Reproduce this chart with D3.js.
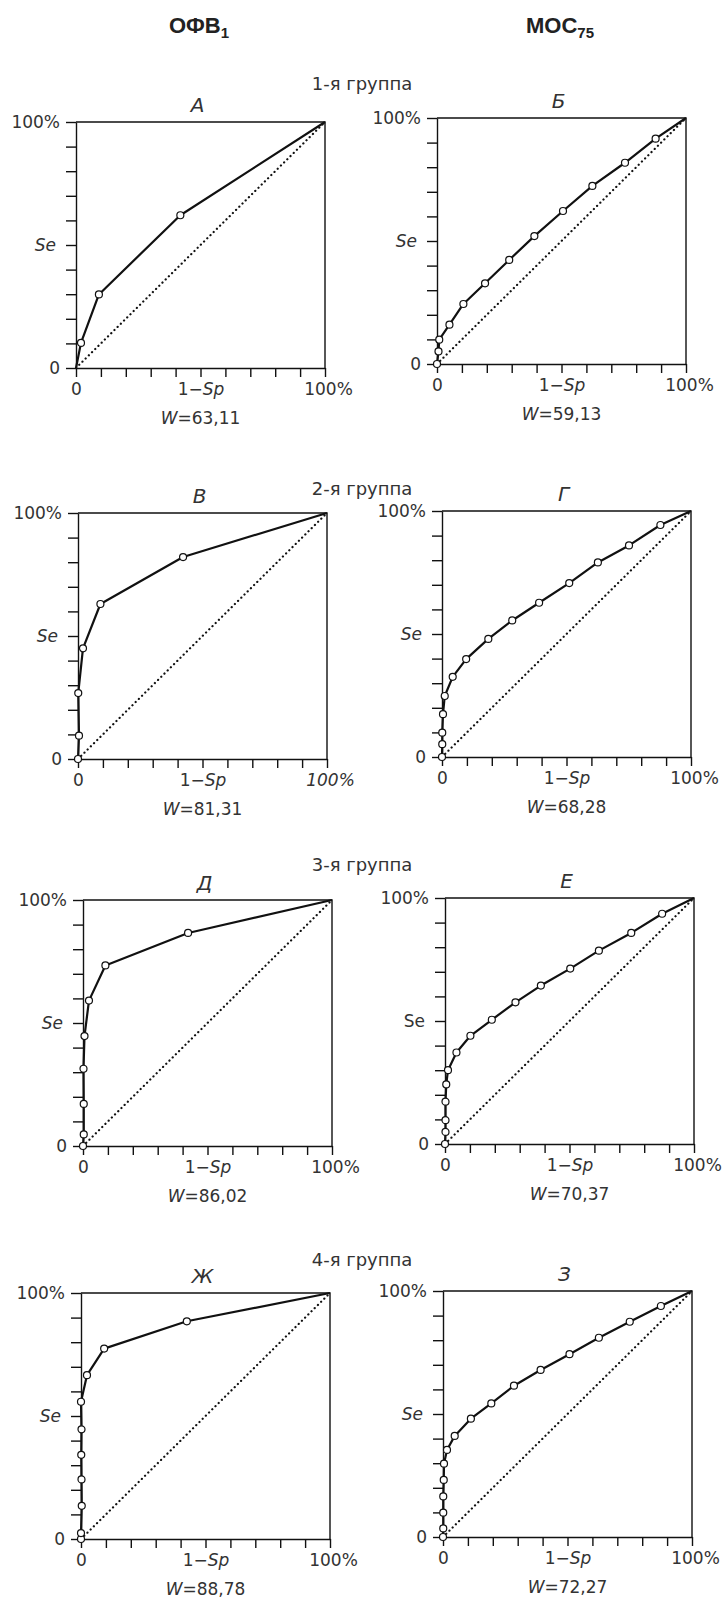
<!DOCTYPE html>
<html>
<head>
<meta charset="utf-8">
<script src="https://cdn.jsdelivr.net/npm/d3@7"></script>
<style>
  body { margin: 0; background: #fff; }
  svg { display: block; }
  .lbl { font-family: "DejaVu Sans", Lato, sans-serif; font-weight: 400; fill: #333; }
</style>
</head>
<body>
<svg id="chart" width="722" height="1607"></svg>
<script>
// column headers and group titles
const columnHeads = [["ОФВ", "1"], ["МОС", "75"]]
const groupNames = ["1-я группа", "2-я группа", "3-я группа", "4-я группа"]
const panelLetters = ["А", "Б", "В", "Г", "Д", "Е", "Ж", "З"]
const wValues = ["63,11", "59,13", "81,31", "68,28", "86,02", "70,37", "88,78", "72,27"]

// ROC points, percent: 1-Sp (x) and Se (y)
const fprA = [0, 2, 9.2, 41.9, 100]
const seA  = [0, 10.2, 29.9, 62.1, 100]
const fprB = [0, 0.6, 0.9, 5, 10.6, 19.3, 29, 39.1, 50.6, 62.4, 75.5, 87.8, 100]
const seB  = [0, 5.1, 9.9, 16, 24.4, 32.8, 42.3, 52, 62.2, 72.4, 81.8, 91.6, 100]
const fprV = [0, 0.4, 0.1, 2, 9, 42.2, 100]
const seV  = [0, 9.5, 26.8, 45, 63, 82.1, 100]
const fprG = [0, 0.1, 0.1, 0.4, 1.1, 4.3, 9.7, 18.6, 28.2, 39, 51.1, 62.6, 75.1, 87.7, 100]
const seG  = [0, 5.2, 9.9, 17.4, 24.8, 32.6, 39.8, 48, 55.5, 62.7, 70.7, 79.1, 86, 94.3, 100]
const fprD = [0, 0.3, 0.3, 0.2, 0.6, 2.4, 9, 42.2, 100]
const seD  = [0, 4.7, 17.1, 31.4, 44.7, 59.1, 73.4, 86.6, 100]
const fprE = [0, 0.2, 0.2, 0.2, 0.5, 1.2, 4.6, 10.2, 18.8, 28.3, 38.5, 50.3, 61.8, 74.8, 87.2, 100]
const seE  = [0, 4.9, 9.7, 17.2, 24.2, 30, 37.2, 44, 50.5, 57.6, 64.4, 71.3, 78.6, 85.8, 93.6, 100]
const fprZh = [0, 0, 0.3, 0.2, 0.1, 0.2, 0, 2.4, 9.3, 42.5, 100]
const seZh  = [0, 2.4, 13.5, 24.2, 34.2, 44.6, 55.8, 66.6, 77.4, 88.5, 100]
const fprZ = [0, 0.1, 0.1, 0.1, 0.3, 0.4, 1.6, 4.7, 11.2, 19.4, 28.5, 39.2, 50.8, 62.6, 75, 87.5, 100]
const seZ  = [0, 3.5, 9.9, 16.5, 23.2, 29.8, 35.4, 41.1, 48.1, 54.3, 61.5, 67.9, 74.3, 81, 87.5, 93.9, 100]

const fprs = [fprA, fprB, fprV, fprG, fprD, fprE, fprZh, fprZ]
const ses  = [seA, seB, seV, seG, seD, seE, seZh, seZ]
const originMarked = [false, true, true, true, true, true, true, true]

// layout (scanned page is slightly uneven)
const panelPos = [[76,122],[437,118],[78,513],[442,511],[83,900],[445,898],[81,1293],[443,1291]]
const groupBase = [90, 495, 871, 1266]
const W = 249, H = 246

const svg = d3.select("#chart")
svg.append("rect").attr("width", 722).attr("height", 1607).attr("fill", "#fff")

// headers
columnHeads.forEach((h, i) => {
    const t = svg.append("text")
        .attr("x", i == 0 ? 199 : 560).attr("y", 33)
        .attr("text-anchor", "middle")
        .style("font-family", "'Liberation Sans', Arial, sans-serif")
        .style("font-weight", "bold").style("font-size", "22px").attr("fill", "#222")
    t.append("tspan").text(h[0])
    t.append("tspan").attr("dy", 5).style("font-size", "15px").text(h[1])
})

groupNames.forEach((g, i) => {
    svg.append("text").attr("class", "lbl")
        .attr("x", 362).attr("y", groupBase[i])
        .attr("text-anchor", "middle").style("font-size", "18px")
        .text(g)
})

const x = d3.scaleLinear().domain([0, 100]).range([0, W])
const y = d3.scaleLinear().domain([0, 100]).range([H, 0])
const line = d3.line().x(d => x(d[0])).y(d => y(d[1]))

panelLetters.forEach((letter, i) => {
    const [left, top] = panelPos[i]
    const g = svg.append("g").attr("transform", `translate(${left},${top})`)

    // frame top/right
    g.append("path")
        .attr("d", `M0,0H${W}V${H}`)
        .attr("fill", "none").attr("stroke", "#111").attr("stroke-width", 1.4)

    const yAxis = g.append("g")
        .call(d3.axisLeft(y).tickValues(d3.range(0, 101, 10)).tickSize(10).tickSizeOuter(0).tickPadding(6)
            .tickFormat(d => d == 0 ? "0" : d == 50 ? "Se" : d == 100 ? "100%" : ""))
    const xAxis = g.append("g").attr("transform", `translate(0,${H})`)
        .call(d3.axisBottom(x).tickValues(d3.range(0, 101, 10)).tickSize(9).tickSizeOuter(0).tickPadding(6)
            .tickFormat(d => d == 0 ? "0" : d == 50 ? "1−Sp" : d == 100 ? "100%" : ""))

    for (const ax of [yAxis, xAxis]) {
        ax.selectAll("path, line").attr("stroke", "#111").attr("stroke-width", 1.4)
        ax.selectAll("text").attr("class", "lbl").style("font-size", "17px")
        ax.attr("font-family", null).attr("font-size", null).attr("fill", null)
    }
    yAxis.selectAll(".tick text").filter(d => d == 50)
        .attr("dx", -4)
        .style("font-style", i == 5 ? "normal" : "italic")
    xAxis.selectAll(".tick text").filter(d => d == 50)
        .text(null)
        .call(t => {
            t.append("tspan").text("1−")
            t.append("tspan").style("font-style", "italic").text("Sp")
        })
    xAxis.selectAll(".tick text").filter(d => d == 100)
        .attr("dx", 3)
        .style("font-style", i == 2 ? "italic" : "normal")

    // chance diagonal
    g.append("line")
        .attr("x1", x(0)).attr("y1", y(0)).attr("x2", x(100)).attr("y2", y(100))
        .attr("stroke", "#111").attr("stroke-width", 2.2)
        .attr("stroke-dasharray", "0.1,4.4").attr("stroke-linecap", "round")

    const pts = fprs[i].map((f, k) => [f, ses[i][k]])
    g.append("path").datum(pts)
        .attr("d", line)
        .attr("fill", "none").attr("stroke", "#111").attr("stroke-width", 2.2)
        .attr("stroke-linejoin", "round")

    g.selectAll("circle")
        .data(pts.filter((p, k) => k < pts.length - 1 && (k > 0 || originMarked[i])))
        .join("circle")
        .attr("cx", d => x(d[0])).attr("cy", d => y(d[1])).attr("r", 3.5)
        .attr("fill", "#fff").attr("stroke", "#111").attr("stroke-width", 1.2)

    // panel letter
    g.append("text").attr("class", "lbl")
        .attr("x", W / 2 - 3).attr("y", -10)
        .attr("text-anchor", "middle")
        .style("font-size", "20px").style("font-style", "italic")
        .text(letter)

    // area value
    const wt = g.append("text").attr("class", "lbl")
        .attr("x", W / 2).attr("y", H + 56)
        .attr("text-anchor", "middle").style("font-size", "17px")
    wt.append("tspan").style("font-style", "italic").text("W")
    wt.append("tspan").text("=" + wValues[i])
})
</script>
</body>
</html>
